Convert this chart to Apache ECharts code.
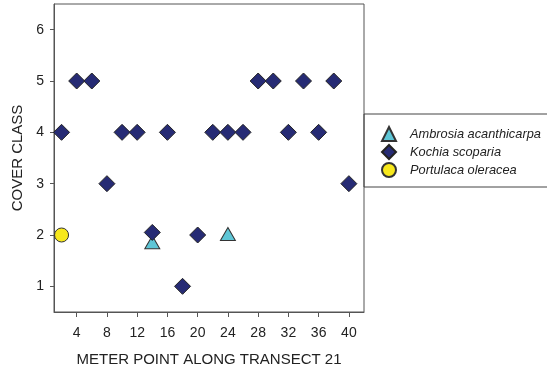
<!DOCTYPE html>
<html><head><meta charset="utf-8">
<script src="https://cdn.jsdelivr.net/npm/echarts@6/dist/echarts.min.js"></script>
<style>html,body{margin:0;padding:0;background:#fff}#c{width:547px;height:375px}</style>
</head><body><div id="c"></div>
<script>
const xTicks = [4, 8, 12, 16, 20, 24, 28, 32, 36, 40];
const yTicks = [1, 2, 3, 4, 5, 6];
const ambrosiaX = [14, 24];
const ambrosiaY = [1.86, 2.02];
const kochiaX = [2, 4, 6, 8, 10, 12, 14, 16, 18, 20, 22, 24, 26, 28, 30, 32, 34, 36, 38, 40];
const kochiaY = [4, 5, 5, 3, 4, 4, 2.05, 4, 1, 2, 4, 4, 4, 5, 5, 4, 5, 4, 5, 3];
const portulacaX = [2];
const portulacaY = [2];
const zip = (a, b) => a.map((v, i) => [v, b[i]]);

const chart = echarts.init(document.getElementById('c'), null, {renderer: 'canvas'});
const font = 'Liberation Sans, Arial, sans-serif';
chart.setOption({
  animation: false,
  grid: {left: 54, top: 4, right: 183, bottom: 63, show: true, borderColor: '#555', borderWidth: 1, backgroundColor: 'transparent'},
  xAxis: {
    type: 'value', min: 1, max: 42,
    name: 'METER POINT ALONG TRANSECT 21', nameLocation: 'middle', nameGap: 40,
    nameTextStyle: {fontFamily: font, fontSize: 15, color: '#222'},
    axisLine: {show: true, onZero: false, lineStyle: {color: '#555'}},
    axisTick: {show: true, length: 5, customValues: xTicks, lineStyle: {color: '#555'}},
    axisLabel: {customValues: xTicks, margin: 14, fontFamily: font, fontSize: 14, color: '#222'},
    splitLine: {show: false}
  },
  yAxis: {
    type: 'value', min: 0.5, max: 6.5,
    name: 'COVER CLASS', nameLocation: 'middle', nameGap: 29,
    nameTextStyle: {fontFamily: font, fontSize: 15, color: '#222'},
    axisLine: {show: true, onZero: false, lineStyle: {color: '#555'}},
    axisTick: {show: true, length: 4, customValues: yTicks, lineStyle: {color: '#555'}},
    axisLabel: {customValues: yTicks, margin: 10, fontFamily: font, fontSize: 14, color: '#222'},
    splitLine: {show: false}
  },
  legend: {
    orient: 'vertical', left: 364, top: 114,
    padding: [12, 200, 9, 17], itemGap: 2, itemWidth: 14, itemHeight: 14,
    borderColor: '#444', borderWidth: 1,
    textStyle: {fontFamily: font, fontSize: 12.8, lineHeight: 14, fontStyle: 'italic', color: '#222', padding: [0, 0, 0, 9]},
    data: ['Ambrosia acanthicarpa', 'Kochia scoparia', 'Portulaca oleracea']
  },
  series: [
    {name: 'Ambrosia acanthicarpa', type: 'scatter', symbol: 'triangle', symbolSize: [15, 13],
     itemStyle: {color: '#5ec6d6', borderColor: '#333', borderWidth: 1, opacity: 1}, data: zip(ambrosiaX, ambrosiaY)},
    {name: 'Kochia scoparia', type: 'scatter', symbol: 'diamond', symbolSize: 16,
     itemStyle: {color: '#262b74', borderColor: '#222', borderWidth: 1, opacity: 1}, data: zip(kochiaX, kochiaY)},
    {name: 'Portulaca oleracea', type: 'scatter', symbol: 'circle', symbolSize: 14,
     itemStyle: {color: '#f7e81c', borderColor: '#333', borderWidth: 1, opacity: 1}, data: zip(portulacaX, portulacaY)}
  ]
});
</script></body></html>
